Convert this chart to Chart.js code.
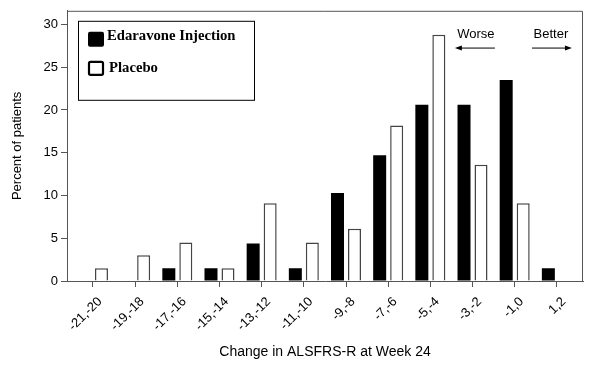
<!DOCTYPE html>
<html>
<head>
<meta charset="utf-8">
<script src="https://cdn.jsdelivr.net/npm/chart.js@4/dist/chart.umd.min.js"></script>
<style>
  html, body { margin: 0; padding: 0; background: #fff; }
  #wrap { width: 591px; height: 371px; }
</style>
</head>
<body>
<div id="wrap"><canvas id="chart" width="591" height="371"></canvas></div>
<script>
// Donnees (pourcentage de patients)
var categories = ['-21,-20', '-19,-18', '-17,-16', '-15,-14', '-13,-12', '-11,-10', '-9,-8', '-7,-6', '-5,-4', '-3,-2', '-1,0', '1,2'];
var edaravone = [0, 0, 1.5, 1.5, 4.4, 1.5, 10.3, 14.7, 20.6, 20.6, 23.5, 1.5];
var placebo = [1.5, 3.0, 4.5, 1.5, 9.1, 4.5, 6.1, 18.2, 28.8, 13.6, 9.1, 0];
var yTicks = [0, 5, 10, 15, 20, 25, 30];

var axisColor = '#555';

function versPoints(values){
    var points = [];
    for (var i in values){
        points.push({x: parseInt(i), y: values[i]});
    }
    return points;
}

// cadre, legende et fleches Worse / Better
const cadrePlugin = {
    id: 'cadre',
    afterDraw(chart) {
        var ctx = chart.ctx;
        var a = chart.chartArea;
        var xs = chart.scales.x;
        var ys = chart.scales.y;
        ctx.save();
        // bord haut et droit
        ctx.strokeStyle = axisColor;
        ctx.lineWidth = 1;
        ctx.beginPath();
        ctx.moveTo(a.left, a.top + 0.5);
        ctx.lineTo(a.right - 0.5, a.top + 0.5);
        ctx.lineTo(a.right - 0.5, a.bottom);
        ctx.stroke();

        // legende
        var lx = a.left + 11, ly = a.top + 10;
        ctx.strokeStyle = '#000';
        ctx.lineWidth = 1;
        ctx.strokeRect(lx + 0.5, ly + 0.5, 176, 79);
        var ds = chart.data.datasets;
        ctx.font = 'bold 14.7px "Liberation Serif", "Times New Roman", serif';
        ctx.textBaseline = 'alphabetic';
        ctx.textAlign = 'left';
        // Edaravone
        ctx.fillStyle = '#000';
        ctx.beginPath();
        ctx.roundRect(lx + 10, ly + 11, 16, 15, 2);
        ctx.fill();
        ctx.fillText(ds[0].label, lx + 29, ly + 19);
        // Placebo
        ctx.fillStyle = '#fff';
        ctx.lineWidth = 2.2;
        ctx.beginPath();
        ctx.roundRect(lx + 11, ly + 41, 14, 13, 1.5);
        ctx.fill();
        ctx.stroke();
        ctx.fillStyle = '#000';
        ctx.fillText(ds[1].label, lx + 31, ly + 51);

        // Worse / Better
        ctx.font = '13px "Liberation Sans", Arial, sans-serif';
        ctx.textAlign = 'center';
        ctx.fillStyle = '#000';
        var yTxt = ys.getPixelForValue(28.4);
        var yFl = ys.getPixelForValue(27.3);
        var wX = xs.getPixelForValue(9.08);
        var bX = xs.getPixelForValue(10.86);
        ctx.fillText('Worse', wX, yTxt);
        ctx.fillText('Better', bX, yTxt);
        ctx.strokeStyle = '#000';
        ctx.lineWidth = 1;
        fleche(ctx, wX + 19, wX - 21, yFl);
        fleche(ctx, bX - 19, bX + 21, yFl);
        ctx.restore();
    }
};

function fleche(ctx, x1, x2, y){
    var dir = x2 > x1 ? 1 : -1;
    ctx.beginPath();
    ctx.moveTo(x1, y + 0.5);
    ctx.lineTo(x2 - dir * 5, y + 0.5);
    ctx.stroke();
    ctx.beginPath();
    ctx.moveTo(x2, y + 0.5);
    ctx.lineTo(x2 - dir * 7, y - 2);
    ctx.lineTo(x2 - dir * 7, y + 3);
    ctx.closePath();
    ctx.fill();
}

new Chart(document.getElementById('chart').getContext('2d'), {
    type: 'bar',
    data: {
        datasets: [{
            label: 'Edaravone Injection',
            data: versPoints(edaravone),
            backgroundColor: '#000',
            borderWidth: 0
        }, {
            label: 'Placebo',
            data: versPoints(placebo),
            backgroundColor: '#fff',
            borderColor: '#444',
            borderWidth: 1.5
        }]
    },
    options: {
        responsive: false,
        animation: false,
        devicePixelRatio: 1,
        categoryPercentage: 0.806,
        barPercentage: 0.765,
        layout: { padding: { top: 5, right: 8, left: 0, bottom: 0 } },
        plugins: {
            legend: { display: false },
            tooltip: { enabled: false }
        },
        scales: {
            x: {
                type: 'linear',
                offset: false,
                min: -0.616,
                max: 11.62,
                afterBuildTicks: function(scale){
                    scale.ticks = categories.map(function(c, i){ return {value: i}; });
                },
                afterFit: function(scale){ scale.height = 90; },
                border: { display: true, color: axisColor, width: 1 },
                grid: { display: true, offset: false, drawOnChartArea: false, drawTicks: true, tickLength: 6, color: axisColor },
                ticks: {
                    autoSkip: false,
                    minRotation: 45,
                    maxRotation: 45,
                    padding: 7,
                    labelOffset: 7,
                    color: '#000',
                    font: { family: '"Liberation Sans", Arial, sans-serif', size: 13 },
                    callback: function(v){ return categories[v]; }
                },
                title: {
                    display: true,
                    text: 'Change in ALSFRS-R at Week 24',
                    color: '#000',
                    font: { family: '"Liberation Sans", Arial, sans-serif', size: 14 },
                    padding: { top: 0, bottom: 10 }
                }
            },
            y: {
                min: 0,
                max: 31.6,
                afterBuildTicks: function(scale){
                    scale.ticks = yTicks.map(function(v){ return {value: v}; });
                },
                afterFit: function(scale){ scale.width = 67; },
                border: { display: true, color: axisColor, width: 1 },
                grid: { display: true, drawOnChartArea: false, drawTicks: true, tickLength: 6, color: axisColor },
                ticks: {
                    padding: 3,
                    color: '#000',
                    font: { family: '"Liberation Sans", Arial, sans-serif', size: 13 }
                },
                title: {
                    display: true,
                    text: 'Percent of patients',
                    color: '#000',
                    font: { family: '"Liberation Sans", Arial, sans-serif', size: 13 },
                    padding: { top: 10, bottom: 0 }
                }
            }
        }
    },
    plugins: [cadrePlugin]
});
</script>
</body>
</html>
